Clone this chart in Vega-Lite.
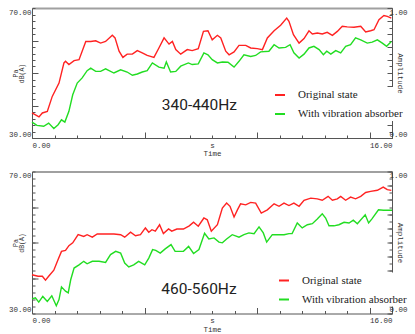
{
  "$schema": "https://vega.github.io/schema/vega-lite/v6.json",
  "padding": {"left": 8, "top": 7, "right": 0, "bottom": 0},
  "background": "white",
  "config": {
    "view": {"stroke": null},
    "axis": {
      "grid": false,
      "labelFont": "Liberation Mono",
      "labelFontSize": 7.5,
      "labelColor": "#333",
      "titleFont": "Liberation Mono",
      "titleFontSize": 7.5,
      "titleFontWeight": "normal",
      "titleColor": "#333",
      "tickColor": "#555",
      "domainColor": "#555"
    },
    "legend": {
      "labelFont": "Liberation Serif, Times New Roman, serif"
    }
  },
  "datasets": {
    "top": [
      {"t": 0, "db": 37.7, "series": "Original state"},
      {"t": 0.31, "db": 36.5, "series": "Original state"},
      {"t": 0.46, "db": 37.7, "series": "Original state"},
      {"t": 0.68, "db": 38.2, "series": "Original state"},
      {"t": 0.9, "db": 42.8, "series": "Original state"},
      {"t": 1.2, "db": 46.9, "series": "Original state"},
      {"t": 1.42, "db": 53.1, "series": "Original state"},
      {"t": 1.49, "db": 53.6, "series": "Original state"},
      {"t": 1.64, "db": 52.6, "series": "Original state"},
      {"t": 1.87, "db": 53.8, "series": "Original state"},
      {"t": 2.09, "db": 54.1, "series": "Original state"},
      {"t": 2.39, "db": 59.7, "series": "Original state"},
      {"t": 2.61, "db": 59.7, "series": "Original state"},
      {"t": 2.83, "db": 59.9, "series": "Original state"},
      {"t": 3.05, "db": 59.2, "series": "Original state"},
      {"t": 3.27, "db": 59.7, "series": "Original state"},
      {"t": 3.57, "db": 61.6, "series": "Original state"},
      {"t": 3.69, "db": 60.8, "series": "Original state"},
      {"t": 3.87, "db": 56.7, "series": "Original state"},
      {"t": 4.04, "db": 54.8, "series": "Original state"},
      {"t": 4.23, "db": 55.8, "series": "Original state"},
      {"t": 4.46, "db": 55.8, "series": "Original state"},
      {"t": 4.68, "db": 56.9, "series": "Original state"},
      {"t": 4.9, "db": 56.2, "series": "Original state"},
      {"t": 5.12, "db": 55.4, "series": "Original state"},
      {"t": 5.42, "db": 54.8, "series": "Original state"},
      {"t": 5.64, "db": 57.7, "series": "Original state"},
      {"t": 5.87, "db": 60.8, "series": "Original state"},
      {"t": 6.09, "db": 58.9, "series": "Original state"},
      {"t": 6.24, "db": 59.7, "series": "Original state"},
      {"t": 6.39, "db": 57.2, "series": "Original state"},
      {"t": 6.61, "db": 55.8, "series": "Original state"},
      {"t": 6.9, "db": 57.2, "series": "Original state"},
      {"t": 7.12, "db": 56.9, "series": "Original state"},
      {"t": 7.39, "db": 57.5, "series": "Original state"},
      {"t": 7.62, "db": 62.8, "series": "Original state"},
      {"t": 7.82, "db": 63.0, "series": "Original state"},
      {"t": 8.01, "db": 60.2, "series": "Original state"},
      {"t": 8.24, "db": 61.6, "series": "Original state"},
      {"t": 8.39, "db": 60.8, "series": "Original state"},
      {"t": 8.61, "db": 56.7, "series": "Original state"},
      {"t": 8.76, "db": 55.6, "series": "Original state"},
      {"t": 8.98, "db": 56.5, "series": "Original state"},
      {"t": 9.2, "db": 58.5, "series": "Original state"},
      {"t": 9.5, "db": 58.5, "series": "Original state"},
      {"t": 9.72, "db": 57.7, "series": "Original state"},
      {"t": 10.01, "db": 57.5, "series": "Original state"},
      {"t": 10.24, "db": 57.2, "series": "Original state"},
      {"t": 10.46, "db": 60.8, "series": "Original state"},
      {"t": 10.76, "db": 63.0, "series": "Original state"},
      {"t": 11.05, "db": 64.7, "series": "Original state"},
      {"t": 11.32, "db": 66.9, "series": "Original state"},
      {"t": 11.42, "db": 65.9, "series": "Original state"},
      {"t": 11.62, "db": 61.8, "series": "Original state"},
      {"t": 11.87, "db": 59.2, "series": "Original state"},
      {"t": 12.09, "db": 60.6, "series": "Original state"},
      {"t": 12.31, "db": 63.0, "series": "Original state"},
      {"t": 12.46, "db": 62.0, "series": "Original state"},
      {"t": 12.68, "db": 62.3, "series": "Original state"},
      {"t": 12.9, "db": 62.0, "series": "Original state"},
      {"t": 13.12, "db": 62.5, "series": "Original state"},
      {"t": 13.35, "db": 61.6, "series": "Original state"},
      {"t": 13.57, "db": 62.8, "series": "Original state"},
      {"t": 13.79, "db": 64.4, "series": "Original state"},
      {"t": 14.01, "db": 64.2, "series": "Original state"},
      {"t": 14.31, "db": 64.1, "series": "Original state"},
      {"t": 14.61, "db": 64.4, "series": "Original state"},
      {"t": 14.83, "db": 62.6, "series": "Original state"},
      {"t": 15.05, "db": 63.0, "series": "Original state"},
      {"t": 15.2, "db": 63.3, "series": "Original state"},
      {"t": 15.42, "db": 66.4, "series": "Original state"},
      {"t": 15.64, "db": 67.7, "series": "Original state"},
      {"t": 15.79, "db": 67.4, "series": "Original state"},
      {"t": 15.97, "db": 66.9, "series": "Original state"},
      {"t": 0, "db": 34.9, "series": "With vibration absorber"},
      {"t": 0.22, "db": 33.9, "series": "With vibration absorber"},
      {"t": 0.52, "db": 33.6, "series": "With vibration absorber"},
      {"t": 0.74, "db": 34.6, "series": "With vibration absorber"},
      {"t": 0.97, "db": 32.9, "series": "With vibration absorber"},
      {"t": 1.16, "db": 34.1, "series": "With vibration absorber"},
      {"t": 1.31, "db": 35.6, "series": "With vibration absorber"},
      {"t": 1.46, "db": 34.9, "series": "With vibration absorber"},
      {"t": 1.64, "db": 38.2, "series": "With vibration absorber"},
      {"t": 1.81, "db": 43.3, "series": "With vibration absorber"},
      {"t": 2.01, "db": 46.9, "series": "With vibration absorber"},
      {"t": 2.23, "db": 48.5, "series": "With vibration absorber"},
      {"t": 2.45, "db": 50.7, "series": "With vibration absorber"},
      {"t": 2.61, "db": 51.5, "series": "With vibration absorber"},
      {"t": 2.83, "db": 50.5, "series": "With vibration absorber"},
      {"t": 3.05, "db": 50.5, "series": "With vibration absorber"},
      {"t": 3.27, "db": 51.3, "series": "With vibration absorber"},
      {"t": 3.64, "db": 50.0, "series": "With vibration absorber"},
      {"t": 3.94, "db": 51.0, "series": "With vibration absorber"},
      {"t": 4.23, "db": 50.3, "series": "With vibration absorber"},
      {"t": 4.46, "db": 49.3, "series": "With vibration absorber"},
      {"t": 4.68, "db": 49.7, "series": "With vibration absorber"},
      {"t": 4.9, "db": 50.3, "series": "With vibration absorber"},
      {"t": 5.12, "db": 50.7, "series": "With vibration absorber"},
      {"t": 5.35, "db": 53.1, "series": "With vibration absorber"},
      {"t": 5.64, "db": 51.8, "series": "With vibration absorber"},
      {"t": 5.87, "db": 51.5, "series": "With vibration absorber"},
      {"t": 5.97, "db": 53.4, "series": "With vibration absorber"},
      {"t": 6.16, "db": 50.3, "series": "With vibration absorber"},
      {"t": 6.39, "db": 50.5, "series": "With vibration absorber"},
      {"t": 6.61, "db": 52.1, "series": "With vibration absorber"},
      {"t": 6.95, "db": 53.1, "series": "With vibration absorber"},
      {"t": 7.12, "db": 52.6, "series": "With vibration absorber"},
      {"t": 7.39, "db": 52.8, "series": "With vibration absorber"},
      {"t": 7.64, "db": 56.2, "series": "With vibration absorber"},
      {"t": 7.82, "db": 55.6, "series": "With vibration absorber"},
      {"t": 8.01, "db": 54.1, "series": "With vibration absorber"},
      {"t": 8.24, "db": 53.1, "series": "With vibration absorber"},
      {"t": 8.46, "db": 53.4, "series": "With vibration absorber"},
      {"t": 8.71, "db": 53.3, "series": "With vibration absorber"},
      {"t": 8.98, "db": 51.8, "series": "With vibration absorber"},
      {"t": 9.2, "db": 53.6, "series": "With vibration absorber"},
      {"t": 9.42, "db": 55.6, "series": "With vibration absorber"},
      {"t": 9.72, "db": 55.1, "series": "With vibration absorber"},
      {"t": 9.94, "db": 55.4, "series": "With vibration absorber"},
      {"t": 10.16, "db": 56.5, "series": "With vibration absorber"},
      {"t": 10.53, "db": 56.7, "series": "With vibration absorber"},
      {"t": 10.76, "db": 58.7, "series": "With vibration absorber"},
      {"t": 10.98, "db": 57.7, "series": "With vibration absorber"},
      {"t": 11.27, "db": 57.9, "series": "With vibration absorber"},
      {"t": 11.47, "db": 58.7, "series": "With vibration absorber"},
      {"t": 11.64, "db": 56.2, "series": "With vibration absorber"},
      {"t": 11.87, "db": 54.6, "series": "With vibration absorber"},
      {"t": 12.09, "db": 55.8, "series": "With vibration absorber"},
      {"t": 12.31, "db": 57.7, "series": "With vibration absorber"},
      {"t": 12.53, "db": 58.2, "series": "With vibration absorber"},
      {"t": 12.76, "db": 57.2, "series": "With vibration absorber"},
      {"t": 12.95, "db": 55.6, "series": "With vibration absorber"},
      {"t": 13.1, "db": 56.7, "series": "With vibration absorber"},
      {"t": 13.28, "db": 55.8, "series": "With vibration absorber"},
      {"t": 13.5, "db": 56.9, "series": "With vibration absorber"},
      {"t": 13.72, "db": 56.2, "series": "With vibration absorber"},
      {"t": 13.94, "db": 58.2, "series": "With vibration absorber"},
      {"t": 14.16, "db": 58.7, "series": "With vibration absorber"},
      {"t": 14.38, "db": 60.8, "series": "With vibration absorber"},
      {"t": 14.61, "db": 60.2, "series": "With vibration absorber"},
      {"t": 14.9, "db": 59.2, "series": "With vibration absorber"},
      {"t": 15.12, "db": 59.5, "series": "With vibration absorber"},
      {"t": 15.35, "db": 60.2, "series": "With vibration absorber"},
      {"t": 15.57, "db": 59.2, "series": "With vibration absorber"},
      {"t": 15.76, "db": 58.2, "series": "With vibration absorber"},
      {"t": 15.97, "db": 59.7, "series": "With vibration absorber"}
    ],
    "bottom": [
      {"t": 0, "db": 40.9, "series": "Original state"},
      {"t": 0.27, "db": 40.5, "series": "Original state"},
      {"t": 0.46, "db": 40.5, "series": "Original state"},
      {"t": 0.6, "db": 39.4, "series": "Original state"},
      {"t": 0.74, "db": 40.5, "series": "Original state"},
      {"t": 0.97, "db": 42.2, "series": "Original state"},
      {"t": 1.16, "db": 45.2, "series": "Original state"},
      {"t": 1.31, "db": 47.5, "series": "Original state"},
      {"t": 1.49, "db": 47.8, "series": "Original state"},
      {"t": 1.64, "db": 49.1, "series": "Original state"},
      {"t": 1.81, "db": 49.9, "series": "Original state"},
      {"t": 2.05, "db": 52.2, "series": "Original state"},
      {"t": 2.3, "db": 51.7, "series": "Original state"},
      {"t": 2.45, "db": 52.2, "series": "Original state"},
      {"t": 2.68, "db": 51.5, "series": "Original state"},
      {"t": 2.9, "db": 52.4, "series": "Original state"},
      {"t": 3.27, "db": 52.4, "series": "Original state"},
      {"t": 3.64, "db": 52.4, "series": "Original state"},
      {"t": 3.94, "db": 52.2, "series": "Original state"},
      {"t": 4.12, "db": 51.5, "series": "Original state"},
      {"t": 4.38, "db": 52.9, "series": "Original state"},
      {"t": 4.6, "db": 51.9, "series": "Original state"},
      {"t": 4.82, "db": 52.2, "series": "Original state"},
      {"t": 5.04, "db": 54.1, "series": "Original state"},
      {"t": 5.19, "db": 52.9, "series": "Original state"},
      {"t": 5.33, "db": 53.6, "series": "Original state"},
      {"t": 5.48, "db": 53.2, "series": "Original state"},
      {"t": 5.67, "db": 55.0, "series": "Original state"},
      {"t": 5.84, "db": 52.5, "series": "Original state"},
      {"t": 6.07, "db": 53.8, "series": "Original state"},
      {"t": 6.21, "db": 53.2, "series": "Original state"},
      {"t": 6.44, "db": 53.8, "series": "Original state"},
      {"t": 6.73, "db": 53.8, "series": "Original state"},
      {"t": 6.99, "db": 54.7, "series": "Original state"},
      {"t": 7.18, "db": 55.7, "series": "Original state"},
      {"t": 7.39, "db": 54.6, "series": "Original state"},
      {"t": 7.64, "db": 56.9, "series": "Original state"},
      {"t": 7.79, "db": 56.4, "series": "Original state"},
      {"t": 7.97, "db": 53.2, "series": "Original state"},
      {"t": 8.24, "db": 55.0, "series": "Original state"},
      {"t": 8.46, "db": 59.7, "series": "Original state"},
      {"t": 8.65, "db": 61.1, "series": "Original state"},
      {"t": 8.8, "db": 60.2, "series": "Original state"},
      {"t": 8.98, "db": 57.2, "series": "Original state"},
      {"t": 9.13, "db": 59.2, "series": "Original state"},
      {"t": 9.27, "db": 60.9, "series": "Original state"},
      {"t": 9.5, "db": 60.6, "series": "Original state"},
      {"t": 9.72, "db": 61.3, "series": "Original state"},
      {"t": 9.94, "db": 61.1, "series": "Original state"},
      {"t": 10.19, "db": 58.3, "series": "Original state"},
      {"t": 10.46, "db": 59.2, "series": "Original state"},
      {"t": 10.76, "db": 60.9, "series": "Original state"},
      {"t": 10.98, "db": 60.2, "series": "Original state"},
      {"t": 11.2, "db": 61.1, "series": "Original state"},
      {"t": 11.42, "db": 60.4, "series": "Original state"},
      {"t": 11.64, "db": 61.1, "series": "Original state"},
      {"t": 11.87, "db": 60.2, "series": "Original state"},
      {"t": 12.09, "db": 61.9, "series": "Original state"},
      {"t": 12.39, "db": 62.5, "series": "Original state"},
      {"t": 12.68, "db": 62.3, "series": "Original state"},
      {"t": 12.9, "db": 61.9, "series": "Original state"},
      {"t": 13.16, "db": 63.0, "series": "Original state"},
      {"t": 13.35, "db": 61.9, "series": "Original state"},
      {"t": 13.57, "db": 62.3, "series": "Original state"},
      {"t": 13.72, "db": 63.0, "series": "Original state"},
      {"t": 13.94, "db": 61.9, "series": "Original state"},
      {"t": 14.16, "db": 62.8, "series": "Original state"},
      {"t": 14.38, "db": 62.3, "series": "Original state"},
      {"t": 14.61, "db": 63.0, "series": "Original state"},
      {"t": 14.83, "db": 64.1, "series": "Original state"},
      {"t": 15.05, "db": 64.4, "series": "Original state"},
      {"t": 15.35, "db": 64.7, "series": "Original state"},
      {"t": 15.61, "db": 65.6, "series": "Original state"},
      {"t": 15.79, "db": 64.9, "series": "Original state"},
      {"t": 15.97, "db": 64.7, "series": "Original state"},
      {"t": 0, "db": 34.1, "series": "With vibration absorber"},
      {"t": 0.15, "db": 34.4, "series": "With vibration absorber"},
      {"t": 0.3, "db": 33.2, "series": "With vibration absorber"},
      {"t": 0.48, "db": 34.8, "series": "With vibration absorber"},
      {"t": 0.68, "db": 33.4, "series": "With vibration absorber"},
      {"t": 0.88, "db": 35.0, "series": "With vibration absorber"},
      {"t": 1.08, "db": 32.2, "series": "With vibration absorber"},
      {"t": 1.2, "db": 33.9, "series": "With vibration absorber"},
      {"t": 1.31, "db": 37.5, "series": "With vibration absorber"},
      {"t": 1.49, "db": 36.3, "series": "With vibration absorber"},
      {"t": 1.61, "db": 35.8, "series": "With vibration absorber"},
      {"t": 1.72, "db": 39.5, "series": "With vibration absorber"},
      {"t": 1.87, "db": 42.8, "series": "With vibration absorber"},
      {"t": 2.09, "db": 43.7, "series": "With vibration absorber"},
      {"t": 2.3, "db": 44.7, "series": "With vibration absorber"},
      {"t": 2.45, "db": 44.0, "series": "With vibration absorber"},
      {"t": 2.68, "db": 44.7, "series": "With vibration absorber"},
      {"t": 2.98, "db": 44.7, "series": "With vibration absorber"},
      {"t": 3.27, "db": 44.4, "series": "With vibration absorber"},
      {"t": 3.49, "db": 46.6, "series": "With vibration absorber"},
      {"t": 3.72, "db": 47.5, "series": "With vibration absorber"},
      {"t": 3.94, "db": 47.0, "series": "With vibration absorber"},
      {"t": 4.12, "db": 44.2, "series": "With vibration absorber"},
      {"t": 4.3, "db": 43.1, "series": "With vibration absorber"},
      {"t": 4.52, "db": 43.7, "series": "With vibration absorber"},
      {"t": 4.74, "db": 44.7, "series": "With vibration absorber"},
      {"t": 5.01, "db": 43.7, "series": "With vibration absorber"},
      {"t": 5.19, "db": 45.6, "series": "With vibration absorber"},
      {"t": 5.36, "db": 48.0, "series": "With vibration absorber"},
      {"t": 5.5, "db": 47.8, "series": "With vibration absorber"},
      {"t": 5.7, "db": 47.0, "series": "With vibration absorber"},
      {"t": 5.92, "db": 48.2, "series": "With vibration absorber"},
      {"t": 6.18, "db": 49.4, "series": "With vibration absorber"},
      {"t": 6.36, "db": 47.5, "series": "With vibration absorber"},
      {"t": 6.73, "db": 47.5, "series": "With vibration absorber"},
      {"t": 6.96, "db": 48.9, "series": "With vibration absorber"},
      {"t": 7.18, "db": 46.9, "series": "With vibration absorber"},
      {"t": 7.42, "db": 48.0, "series": "With vibration absorber"},
      {"t": 7.67, "db": 52.6, "series": "With vibration absorber"},
      {"t": 7.86, "db": 51.0, "series": "With vibration absorber"},
      {"t": 8.09, "db": 51.3, "series": "With vibration absorber"},
      {"t": 8.31, "db": 50.1, "series": "With vibration absorber"},
      {"t": 8.46, "db": 49.9, "series": "With vibration absorber"},
      {"t": 8.65, "db": 51.0, "series": "With vibration absorber"},
      {"t": 8.9, "db": 52.2, "series": "With vibration absorber"},
      {"t": 9.2, "db": 51.5, "series": "With vibration absorber"},
      {"t": 9.42, "db": 52.2, "series": "With vibration absorber"},
      {"t": 9.64, "db": 52.7, "series": "With vibration absorber"},
      {"t": 9.87, "db": 52.5, "series": "With vibration absorber"},
      {"t": 10.09, "db": 54.4, "series": "With vibration absorber"},
      {"t": 10.28, "db": 52.7, "series": "With vibration absorber"},
      {"t": 10.43, "db": 50.1, "series": "With vibration absorber"},
      {"t": 10.68, "db": 52.2, "series": "With vibration absorber"},
      {"t": 10.9, "db": 52.2, "series": "With vibration absorber"},
      {"t": 11.2, "db": 52.2, "series": "With vibration absorber"},
      {"t": 11.42, "db": 52.5, "series": "With vibration absorber"},
      {"t": 11.56, "db": 52.5, "series": "With vibration absorber"},
      {"t": 11.79, "db": 55.5, "series": "With vibration absorber"},
      {"t": 12.01, "db": 54.1, "series": "With vibration absorber"},
      {"t": 12.24, "db": 55.0, "series": "With vibration absorber"},
      {"t": 12.46, "db": 55.3, "series": "With vibration absorber"},
      {"t": 12.68, "db": 56.6, "series": "With vibration absorber"},
      {"t": 12.9, "db": 58.1, "series": "With vibration absorber"},
      {"t": 13.05, "db": 56.9, "series": "With vibration absorber"},
      {"t": 13.2, "db": 54.7, "series": "With vibration absorber"},
      {"t": 13.42, "db": 54.7, "series": "With vibration absorber"},
      {"t": 13.64, "db": 55.0, "series": "With vibration absorber"},
      {"t": 13.87, "db": 55.7, "series": "With vibration absorber"},
      {"t": 14.09, "db": 55.5, "series": "With vibration absorber"},
      {"t": 14.28, "db": 56.3, "series": "With vibration absorber"},
      {"t": 14.46, "db": 55.3, "series": "With vibration absorber"},
      {"t": 14.81, "db": 57.8, "series": "With vibration absorber"},
      {"t": 14.96, "db": 55.5, "series": "With vibration absorber"},
      {"t": 15.1, "db": 56.6, "series": "With vibration absorber"},
      {"t": 15.4, "db": 59.2, "series": "With vibration absorber"},
      {"t": 15.62, "db": 59.1, "series": "With vibration absorber"},
      {"t": 16, "db": 59.1, "series": "With vibration absorber"}
    ]
  },
  "vconcat": [
    {
      "width": 360,
      "height": 130,
      "data": {"name": "top"},
      "layer": [
        {
          "mark": {"type": "line", "strokeWidth": 1.4},
          "encoding": {
            "x": {"field": "t", "type": "quantitative", "scale": {"domain": [0, 16], "nice": false, "zero": false},
              "axis": {"orient": "bottom", "values": [0,1,2,3,4,5,6,7,8,9,10,11,12,13,14,15,16], "tickSize": -3, "labels": false, "title": null}},
            "y": {"field": "db", "type": "quantitative", "scale": {"domain": [30, 70], "nice": false, "zero": false},
              "axis": {"orient": "left", "values": [30,32,34,36,38,40,42,44,46,48,50,52,54,56,58,60,62,64,66,68,70], "tickSize": -3, "labels": false, "title": ["Pa", "dB(A)"], "titleFontSize": 6.5, "titleLineHeight": 6, "titlePadding": 7}},
            "color": {"field": "series", "type": "nominal",
              "scale": {"domain": ["Original state", "With vibration absorber"], "range": ["#ff2222", "#22dd22"]},
              "legend": {"orient": "none", "legendX": 240, "legendY": 79, "zindex": 0, "title": null, "symbolType": "stroke", "symbolSize": 100, "symbolStrokeWidth": 2, "labelFontSize": 11, "labelColor": "#222", "labelOffset": 12, "labelLimit": 200, "rowPadding": 8, "fillColor": "white", "padding": 2}}
          }
        },
        {
          "mark": {"type": "point", "opacity": 0},
          "encoding": {
            "x": {"field": "t", "type": "quantitative", "scale": {"domain": [0, 16], "nice": false, "zero": false},
              "axis": {"orient": "bottom", "values": [5, 10, 15], "tickSize": -6, "labels": false, "domain": false, "title": null}},
            "y": {"field": "db", "type": "quantitative", "scale": {"domain": [30, 70], "nice": false, "zero": false},
              "axis": {"orient": "left", "values": [40, 50, 60], "tickSize": -6, "labels": false, "domain": false, "title": null}}
          }
        },
        {
          "mark": {"type": "point", "opacity": 0},
          "encoding": {
            "x": {"field": "t", "type": "quantitative", "scale": {"domain": [0, 16], "nice": false, "zero": false},
              "axis": {"orient": "bottom", "values": [0, 8, 16], "ticks": false, "domain": false, "labelFlush": true, "labelPadding": 3,
                "labelExpr": "datum.value == 8 ? 's' : format(datum.value, '.2f')", "title": "Time", "titlePadding": 1}},
            "y": {"field": "db", "type": "quantitative", "scale": {"domain": [30, 70], "nice": false, "zero": false},
              "axis": {"orient": "left", "values": [30, 70], "ticks": false, "domain": false, "labelFlush": true, "labelPadding": 1,
                "labelExpr": "format(datum.value, '.2f')", "title": null}}
          }
        },
        {
          "mark": {"type": "point", "opacity": 0},
          "encoding": {
            "x": {"field": "t", "type": "quantitative", "scale": {"domain": [0, 16], "nice": false, "zero": false}, "axis": null},
            "y": {"datum": 0, "type": "quantitative", "scale": {"domain": [0, 1], "nice": false, "zero": false},
              "axis": {"orient": "right", "values": [0,0.05,0.1,0.15,0.2,0.25,0.3,0.35,0.4,0.45,0.5,0.55,0.6,0.65,0.7,0.75,0.8,0.85,0.9,0.95,1], "tickSize": -3, "labels": false, "title": null}}
          }
        },
        {
          "mark": {"type": "point", "opacity": 0},
          "encoding": {
            "x": {"field": "t", "type": "quantitative", "scale": {"domain": [0, 16], "nice": false, "zero": false},
              "axis": {"orient": "top", "ticks": false, "labels": false, "domainColor": "#a0a0a0", "domainWidth": 2.2, "title": null}},
            "y": {"datum": 0, "type": "quantitative", "scale": {"domain": [0, 1], "nice": false, "zero": false},
              "axis": {"orient": "right", "values": [0,0.1,0.2,0.3,0.4,0.5,0.6,0.7,0.8,0.9,1], "tickSize": -5, "domain": false, "labelFlush": true, "labelPadding": 2,
                "labelExpr": "datum.value == 0 || datum.value == 1 ? format(datum.value, '.2f') : ''", "title": null}}
          }
        },
        {
          "mark": {"type": "point", "opacity": 0},
          "encoding": {
            "x": {"field": "t", "type": "quantitative", "scale": {"domain": [0, 16], "nice": false, "zero": false}, "axis": null},
            "y": {"datum": 0, "type": "quantitative", "scale": {"domain": [0, 1], "nice": false, "zero": false},
              "axis": {"orient": "right", "ticks": false, "labels": false, "domain": false, "title": "Amplitude", "titlePadding": 3, "zindex": 2}}
          }
        },
        {
          "data": {"values": [{}]},
          "mark": {"type": "text", "font": "Roboto", "fontSize": 15.5, "align": "center", "baseline": "alphabetic", "color": "#222"},
          "encoding": {
            "x": {"datum": 7.44, "type": "quantitative", "scale": {"domain": [0, 16], "nice": false, "zero": false}, "axis": null},
            "y": {"datum": 38.6, "type": "quantitative", "scale": {"domain": [30, 70], "nice": false, "zero": false}, "axis": null},
            "text": {"value": "340-440Hz"}
          }
        }
      ],
      "resolve": {"scale": {"x": "independent", "y": "independent"}, "axis": {"x": "independent", "y": "independent"}}
    },
    {
      "width": 360,
      "height": 142,
      "data": {"name": "bottom"},
      "layer": [
        {
          "mark": {"type": "line", "strokeWidth": 1.4},
          "encoding": {
            "x": {"field": "t", "type": "quantitative", "scale": {"domain": [0, 16], "nice": false, "zero": false},
              "axis": {"orient": "bottom", "values": [0,1,2,3,4,5,6,7,8,9,10,11,12,13,14,15,16], "tickSize": -3, "labels": false, "title": null}},
            "y": {"field": "db", "type": "quantitative", "scale": {"domain": [30, 70], "nice": false, "zero": false},
              "axis": {"orient": "left", "values": [30,32,34,36,38,40,42,44,46,48,50,52,54,56,58,60,62,64,66,68,70], "tickSize": -3, "labels": false, "title": ["Pa", "dB(A)"], "titleFontSize": 6.5, "titleLineHeight": 6, "titlePadding": 7}},
            "color": {"field": "series", "type": "nominal",
              "scale": {"domain": ["Original state", "With vibration absorber"], "range": ["#ff2222", "#22dd22"]},
              "legend": {"orient": "none", "legendX": 244, "legendY": 101, "zindex": 0, "title": null, "symbolType": "stroke", "symbolSize": 100, "symbolStrokeWidth": 2, "labelFontSize": 11, "labelColor": "#222", "labelOffset": 12, "labelLimit": 200, "rowPadding": 8, "fillColor": "white", "padding": 2}}
          }
        },
        {
          "mark": {"type": "point", "opacity": 0},
          "encoding": {
            "x": {"field": "t", "type": "quantitative", "scale": {"domain": [0, 16], "nice": false, "zero": false},
              "axis": {"orient": "bottom", "values": [5, 10, 15], "tickSize": -6, "labels": false, "domain": false, "title": null}},
            "y": {"field": "db", "type": "quantitative", "scale": {"domain": [30, 70], "nice": false, "zero": false},
              "axis": {"orient": "left", "values": [40, 50, 60], "tickSize": -6, "labels": false, "domain": false, "title": null}}
          }
        },
        {
          "mark": {"type": "point", "opacity": 0},
          "encoding": {
            "x": {"field": "t", "type": "quantitative", "scale": {"domain": [0, 16], "nice": false, "zero": false},
              "axis": {"orient": "bottom", "values": [0, 8, 16], "ticks": false, "domain": false, "labelFlush": true, "labelPadding": 3,
                "labelExpr": "datum.value == 8 ? 's' : format(datum.value, '.2f')", "title": "Time", "titlePadding": 1}},
            "y": {"field": "db", "type": "quantitative", "scale": {"domain": [30, 70], "nice": false, "zero": false},
              "axis": {"orient": "left", "values": [30, 70], "ticks": false, "domain": false, "labelFlush": true, "labelPadding": 1,
                "labelExpr": "format(datum.value, '.2f')", "title": null}}
          }
        },
        {
          "mark": {"type": "point", "opacity": 0},
          "encoding": {
            "x": {"field": "t", "type": "quantitative", "scale": {"domain": [0, 16], "nice": false, "zero": false}, "axis": null},
            "y": {"datum": 0, "type": "quantitative", "scale": {"domain": [0, 1], "nice": false, "zero": false},
              "axis": {"orient": "right", "values": [0,0.05,0.1,0.15,0.2,0.25,0.3,0.35,0.4,0.45,0.5,0.55,0.6,0.65,0.7,0.75,0.8,0.85,0.9,0.95,1], "tickSize": -3, "labels": false, "title": null}}
          }
        },
        {
          "mark": {"type": "point", "opacity": 0},
          "encoding": {
            "x": {"field": "t", "type": "quantitative", "scale": {"domain": [0, 16], "nice": false, "zero": false},
              "axis": {"orient": "top", "ticks": false, "labels": false, "domainColor": "#a0a0a0", "domainWidth": 2.2, "title": null}},
            "y": {"datum": 0, "type": "quantitative", "scale": {"domain": [0, 1], "nice": false, "zero": false},
              "axis": {"orient": "right", "values": [0,0.1,0.2,0.3,0.4,0.5,0.6,0.7,0.8,0.9,1], "tickSize": -5, "domain": false, "labelFlush": true, "labelPadding": 2,
                "labelExpr": "datum.value == 0 || datum.value == 1 ? format(datum.value, '.2f') : ''", "title": null}}
          }
        },
        {
          "mark": {"type": "point", "opacity": 0},
          "encoding": {
            "x": {"field": "t", "type": "quantitative", "scale": {"domain": [0, 16], "nice": false, "zero": false}, "axis": null},
            "y": {"datum": 0, "type": "quantitative", "scale": {"domain": [0, 1], "nice": false, "zero": false},
              "axis": {"orient": "right", "ticks": false, "labels": false, "domain": false, "title": "Amplitude", "titlePadding": 3, "zindex": 2}}
          }
        },
        {
          "data": {"values": [{}]},
          "mark": {"type": "text", "font": "Roboto", "fontSize": 15.5, "align": "center", "baseline": "alphabetic", "color": "#222"},
          "encoding": {
            "x": {"datum": 7.42, "type": "quantitative", "scale": {"domain": [0, 16], "nice": false, "zero": false}, "axis": null},
            "y": {"datum": 35.5, "type": "quantitative", "scale": {"domain": [30, 70], "nice": false, "zero": false}, "axis": null},
            "text": {"value": "460-560Hz"}
          }
        }
      ],
      "resolve": {"scale": {"x": "independent", "y": "independent"}, "axis": {"x": "independent", "y": "independent"}}
    }
  ],
  "spacing": 33.5,
  "bounds": "flush",
  "resolve": {"legend": {"color": "independent"}}
}
